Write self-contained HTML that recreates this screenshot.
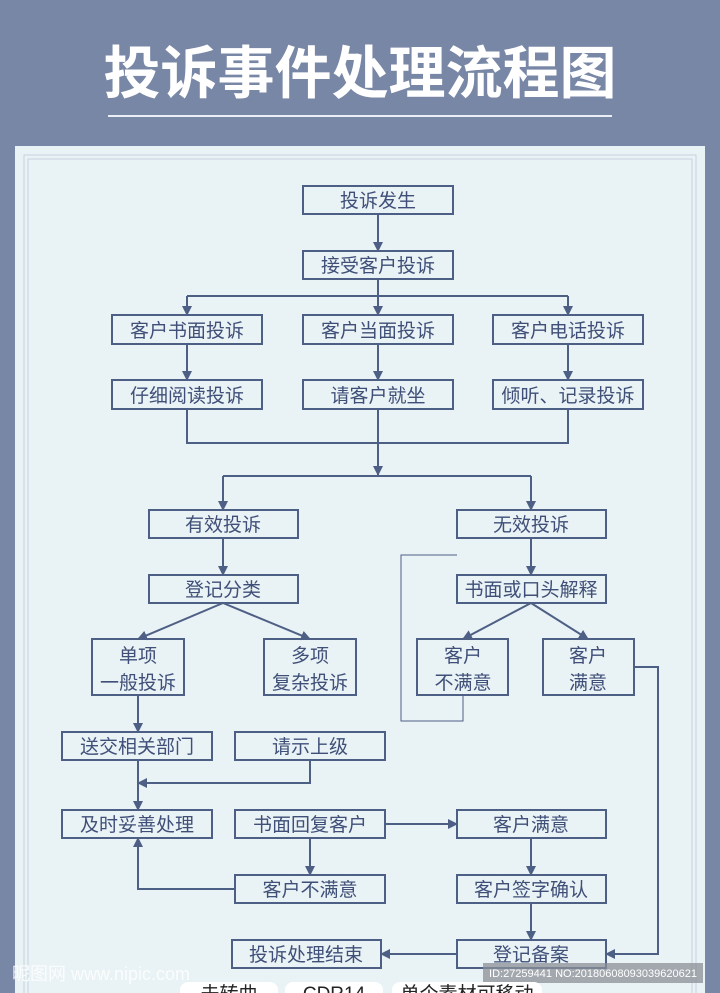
<!DOCTYPE html>
<html><head><meta charset="utf-8"><style>
html,body{margin:0;padding:0;width:720px;height:993px;overflow:hidden;background:#7887a6;}
svg{display:block}
text{font-family:"Liberation Sans","Noto Sans CJK SC",sans-serif;}
</style></head><body>
<svg width="720" height="993" viewBox="0 0 720 993" xmlns="http://www.w3.org/2000/svg">
<defs><marker id="a" markerWidth="10" markerHeight="10" refX="9" refY="5" orient="auto" markerUnits="userSpaceOnUse"><path d="M0,0 L10,5 L0,10 z" fill="#4e5f85"/></marker></defs>
<rect width="720" height="993" fill="#7887a6"/>
<text x="360" y="93" font-size="57" fill="#fff" text-anchor="middle" font-family="'Noto Serif CJK SC',serif" font-weight="600">投诉事件处理流程图</text>
<line x1="108" y1="116" x2="612" y2="116" stroke="#e8eef4" stroke-width="2"/>
<rect x="15" y="146" width="690" height="860" fill="#e9f2f5"/>
<rect x="24" y="155" width="672" height="840" fill="none" stroke="#c5d3df" stroke-width="1"/>
<rect x="28" y="159" width="664" height="840" fill="none" stroke="#c5d3df" stroke-width="1"/>
<g fill="#e9f2f5" stroke="#4e5f85" stroke-width="2">
<rect x="303" y="186" width="150" height="28"/>
<rect x="303" y="251" width="150" height="28"/>
<rect x="112" y="315" width="150" height="29"/><rect x="303" y="315" width="150" height="29"/><rect x="493" y="315" width="150" height="29"/>
<rect x="112" y="380" width="150" height="29"/><rect x="303" y="380" width="150" height="29"/><rect x="493" y="380" width="150" height="29"/>
<rect x="149" y="510" width="149" height="28"/><rect x="457" y="510" width="149" height="28"/>
<rect x="149" y="575" width="149" height="28"/><rect x="457" y="575" width="149" height="28"/>
<rect x="92" y="639" width="92" height="56"/><rect x="264" y="639" width="92" height="56"/><rect x="417" y="639" width="91" height="56"/><rect x="543" y="639" width="91" height="56"/>
<rect x="62" y="732" width="150" height="28"/><rect x="235" y="732" width="150" height="28"/>
<rect x="62" y="810" width="150" height="28"/><rect x="235" y="810" width="150" height="28"/><rect x="457" y="810" width="149" height="28"/>
<rect x="235" y="875" width="150" height="28"/><rect x="457" y="875" width="149" height="28"/>
<rect x="232" y="940" width="149" height="28"/><rect x="457" y="940" width="149" height="28"/>
</g>
<g fill="none" stroke="#4e5f85" stroke-width="2">
<path d="M187,296 H568"/>
<path d="M187,409 V443 H568 V409"/><path d="M378,409 V443"/>
<path d="M223,476 H531"/>
</g>
<g fill="none" stroke="#4e5f85" stroke-width="2" marker-end="url(#a)">
<path d="M378,214 V251"/>
<path d="M378,279 V315"/><path d="M187,296 V315"/><path d="M568,296 V315"/>
<path d="M187,344 V380"/><path d="M378,344 V380"/><path d="M568,344 V380"/>
<path d="M378,443 V475"/>
<path d="M223,476 V510"/><path d="M531,476 V510"/>
<path d="M223,538 V575"/><path d="M531,538 V575"/>
<path d="M223,603 L138,639"/><path d="M223,603 L310,639"/>
<path d="M531,603 L463,639"/><path d="M531,603 L588,639"/>
<path d="M138,695 V732"/>
<path d="M310,760 V783 H138"/>
<path d="M138,760 V810"/>
<path d="M385,824 H457"/>
<path d="M310,838 V875"/>
<path d="M235,889 H138 V838"/>
<path d="M531,838 V875"/>
<path d="M531,903 V940"/>
<path d="M634,667 H658 V954 H606"/>
<path d="M457,954 H381"/>
</g>
<path d="M463,695 V721 H401 V555 H457" fill="none" stroke="#4e5f85" stroke-width="1"/>
<g font-size="19" fill="#3f4f78" text-anchor="middle">
<text x="378" y="207">投诉发生</text>
<text x="378" y="272">接受客户投诉</text>
<text x="187" y="337">客户书面投诉</text><text x="378" y="337">客户当面投诉</text><text x="568" y="337">客户电话投诉</text>
<text x="187" y="402">仔细阅读投诉</text><text x="378" y="402">请客户就坐</text><text x="568" y="402">倾听、记录投诉</text>
<text x="223" y="531">有效投诉</text><text x="531" y="531">无效投诉</text>
<text x="223" y="596">登记分类</text><text x="531" y="596">书面或口头解释</text>
<text x="138" y="662">单项</text><text x="138" y="689">一般投诉</text>
<text x="310" y="662">多项</text><text x="310" y="689">复杂投诉</text>
<text x="463" y="662">客户</text><text x="463" y="689">不满意</text>
<text x="588" y="662">客户</text><text x="588" y="689">满意</text>
<text x="137" y="753">送交相关部门</text><text x="310" y="753">请示上级</text>
<text x="137" y="831">及时妥善处理</text><text x="310" y="831">书面回复客户</text><text x="531" y="831">客户满意</text>
<text x="310" y="896">客户不满意</text><text x="531" y="896">客户签字确认</text>
<text x="306" y="961">投诉处理结束</text><text x="531" y="961">登记备案</text>
</g>
<rect x="483" y="963" width="220" height="20" fill="#8a8f96" opacity="0.75"/>
<text x="593" y="977" font-size="11" fill="#fff" text-anchor="middle">ID:27259441 NO:20180608093039620621</text>
<text x="12" y="980" font-size="18" fill="#fff" opacity="0.85">昵图网 www.nipic.com</text>
<rect x="180" y="982" width="98" height="20" rx="8" fill="#fff"/><rect x="285" y="982" width="98" height="20" rx="8" fill="#fff"/><rect x="392" y="982" width="150" height="20" rx="8" fill="#fff"/>
<g font-size="19" fill="#222" text-anchor="middle"><text x="229" y="1000">未转曲</text><text x="334" y="1000">CDR14</text><text x="467" y="1000">单个素材可移动</text></g>
</svg>
</body></html>
